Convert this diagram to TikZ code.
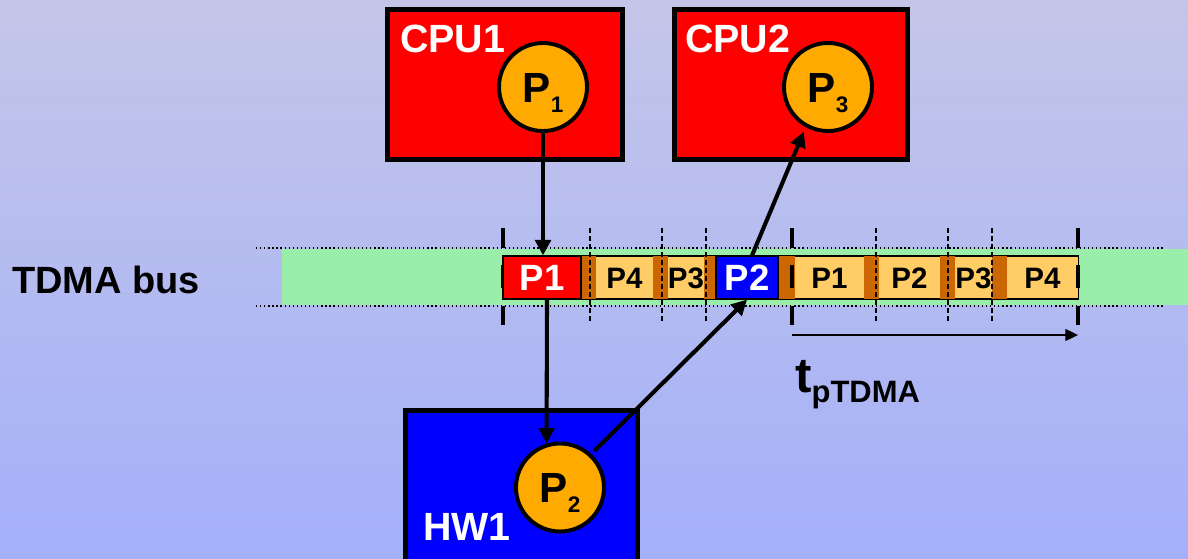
\documentclass[tikz,border=0pt]{standalone}
\usepackage{fontspec}
\setmainfont{Liberation Sans}
\usepackage{xcolor}
\usepackage{tikz}
\usetikzlibrary{arrows.meta}

\definecolor{bgtop}{HTML}{C4C6E8}
\definecolor{bgbottom}{HTML}{A4B0FA}
\definecolor{busgreen}{HTML}{99EEAA}
\definecolor{slotlight}{HTML}{FFCC66}
\definecolor{slotdark}{HTML}{CC6600}
\definecolor{procorange}{HTML}{FFAA00}

\begin{document}
\begin{tikzpicture}[
    x=0.025cm, y=-0.025cm,
    unit/.style={rectangle, draw, line width=3.5pt, minimum height=3.75cm, inner sep=0pt},
    unitname/.style={text=white, font=\bfseries\fontsize{28}{28}\selectfont, anchor=base west, inner sep=0pt},
    proc/.style={circle, draw, line width=2.8pt, fill=procorange, minimum size=2.2cm, inner sep=0pt, font=\bfseries\fontsize{30}{30}\selectfont},
    slot/.style={rectangle, inner sep=0pt, minimum height=1.075cm, font=\bfseries\fontsize{21}{21}\selectfont},
    owner/.style={slot, draw, line width=0.8pt, text=white, font=\bfseries\fontsize{26}{26}\selectfont},
    tick/.style={line width=2.8pt},
    guide/.style={dashed, dash pattern=on 3.5pt off 2.2pt, line width=0.9pt},
    arrow/.style={-{Triangle[length=11pt, width=11pt]}, line width=2.9pt},
]
    \clip (0,0) rectangle (1188,558);

    % Background
    \shade[top color=bgtop, bottom color=bgbottom] (0,0) rectangle (1188,558);

    % Bus
    \fill[busgreen] (282,249) rectangle (1188,305);
    \draw[dotted, line width=0.9pt] (256,248) -- (1163,248);
    \draw[dotted, line width=0.9pt] (256,306) -- (1163,306);
    \node[font=\bfseries\fontsize{27}{27}\selectfont, anchor=base west, inner sep=0pt] (busname) at (12,293) {TDMA bus};

    % Ticks
    \foreach \x in {503,792,1078} {
        \draw[tick] (\x,228) -- (\x,248);
        \draw[tick] (\x,306) -- (\x,325);
    }

    % Slots
    \node[slot, draw, line width=0.8pt, fill=slotlight, minimum width=14.375cm] (row) at (790.5,277.5) {};
    \foreach \a/\b in {581/596, 653/668, 704/716, 778/795, 864/879, 940/955, 992/1007}
        \fill[slotdark] (\a,256) rectangle (\b,299);
    \foreach \x in {503,792,1078}
        \draw[tick] (\x,265) -- (\x,288);
    \foreach \a/\b/\t in {596/653/P4, 668/704/P3, 795/864/P1, 879/940/P2, 955/992/P3, 1007/1078/P4}
        \node[slot] (sl\a) at ({(\a+\b)/2},278) {\t};
    \node[owner, fill=red, minimum width=1.95cm] (s1) at (542,277.5) {P1};
    \node[owner, fill=blue, minimum width=1.55cm] (s2) at (747,277.5) {P2};
    \foreach \x in {590,662,706,876,948,992}
        \draw[guide] (\x,228) -- (\x,322);

    % Period
    \coordinate (tstart) at (792,335);
    \coordinate (tend) at (1078,335);
    \draw[-{Triangle[length=9pt, width=8.5pt]}, line width=0.9pt] (tstart) -- (tend);
    \node[anchor=base west, inner sep=0pt] (period) at (795,392) {{\bfseries\fontsize{35}{35}\selectfont t}\raisebox{-0.25cm}{\bfseries\fontsize{22}{22}\selectfont pTDMA}};

    % Units
    \node[unit, fill=red, minimum width=5.875cm] (cpu1) at (505,84.5) {};
    \node[unit, fill=red, minimum width=5.825cm] (cpu2) at (791,84.5) {};
    \node[unit, fill=blue, minimum width=5.8cm, minimum height=4.75cm] (hw1) at (521.5,505.5) {};
    \node[unitname] (cpu1name) at (400,53) {CPU1};
    \node[unitname] (cpu2name) at (685,53) {CPU2};
    \node[unitname] (hw1name) at (423,540) {HW1};

    % Processes
    \node[proc] (p1) at (543,87) {\raisebox{-0.375cm}[0pt][0pt]{P\raisebox{-0.25cm}{\fontsize{16}{16}\selectfont 1}}};
    \node[proc] (p3) at (828,87) {\raisebox{-0.375cm}[0pt][0pt]{P\raisebox{-0.25cm}{\fontsize{16}{16}\selectfont 3}}};
    \node[proc] (p2) at (560,487.5) {\raisebox{-0.375cm}[0pt][0pt]{P\raisebox{-0.25cm}{\fontsize{16}{16}\selectfont 2}}};

    % Messages
    \draw[arrow] (p1.south) -- (p1.south |- s1.north);
    \draw[arrow] ([xshift=0.125cm]s1.south) -- (p2.107);
    \draw[arrow, shorten <=0.1cm] (p2.47) -- (s2.south);
    \draw[arrow, shorten >=0.12cm] ([xshift=0.125cm]s2.north) -- (p3.241);
\end{tikzpicture}
\end{document}
